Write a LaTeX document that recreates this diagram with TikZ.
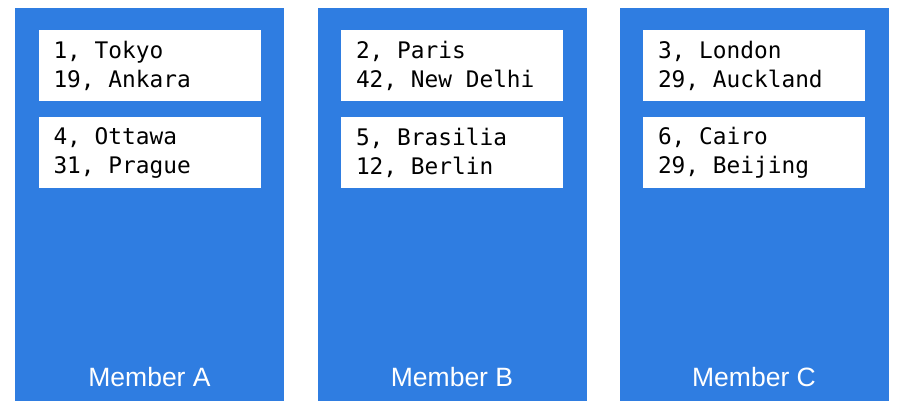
\documentclass[tikz,border=0pt]{standalone}
\usepackage{fontspec}
\setmainfont{Liberation Sans}
\newfontfamily\recfont{DejaVu Sans Mono}
\newcommand\recsetup{\recfont\fontsize{22.8}{29}\selectfont
  \spaceskip=0.602em\relax\xspaceskip=0.602em\relax}
\usepackage{xcolor}
\usepackage{tikz}
\usetikzlibrary{positioning}
\definecolor{memberblue}{RGB}{47,125,225}
\tikzset{
  member/.style ={fill=memberblue, draw=none, minimum width=269pt, minimum height=393pt,
                  inner sep=0pt},
  record/.style ={fill=white, draw=none, minimum width=222pt, minimum height=71pt,
                  text width=192pt, inner xsep=15pt, inner ysep=0pt, align=flush left,
                  font=\recsetup},
  mlabel/.style ={text=white, font=\fontsize{26.5}{30}\selectfont, anchor=base, inner sep=0pt},
}
\begin{document}
\begin{tikzpicture}[x=1pt,y=1pt]
\useasboundingbox (0,0) rectangle (900,412);
% members
\node[member] (ma) at (149.5,207.8) {};
\node[member] (mb) at (452,207.8) {};
\node[member] (mc) at (754,207.8) {};
% records
\node[record,below=22.3pt of ma.north] (a1) {1, Tokyo\\19, Ankara};
\node[record,below=16pt of a1] (a2) {4, Ottawa\\31, Prague};
\node[record,below=22.3pt of mb.north] (b1) {2, Paris\\42, New Delhi};
\node[record,below=16pt of b1] (b2) {5, Brasilia\\12, Berlin};
\node[record,below=22.3pt of mc.north] (c1) {3, London\\29, Auckland};
\node[record,below=16pt of c1] (c2) {6, Cairo\\29, Beijing};
% labels
\node[mlabel] (la) at (149.5,25) {Member A};
\node[mlabel] (lb) at (452,25) {Member B};
\node[mlabel] (lc) at (754,25) {Member C};
\end{tikzpicture}
\end{document}
